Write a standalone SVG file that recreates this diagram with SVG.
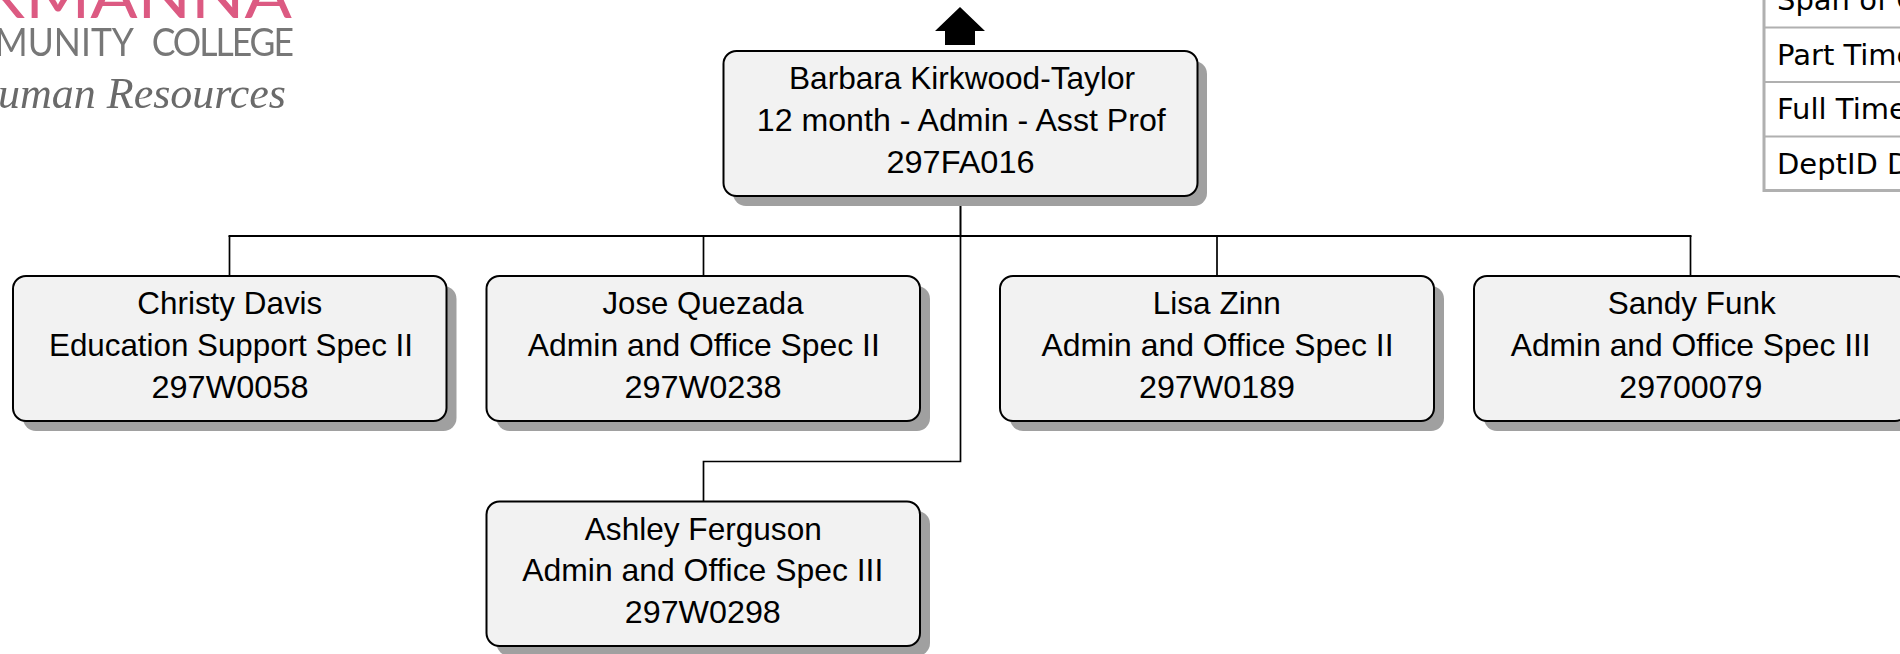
<svg xmlns="http://www.w3.org/2000/svg" width="1900" height="654" viewBox="0 0 1900 654">
<defs><filter id="soft" x="-5%" y="-5%" width="110%" height="110%"><feGaussianBlur stdDeviation="0.6"/></filter></defs>
<style>
.box{fill:#f2f2f2;stroke:#000;stroke-width:2}
.sh{fill:#a0a0a0}
.t{font-family:"Liberation Sans",Arial,sans-serif;font-size:32px;fill:#000;text-anchor:middle}
.c{fill:none;stroke:#000;stroke-width:2}
.tb{font-family:"DejaVu Sans",sans-serif;font-size:29px;fill:#000}
.gl{fill:none;stroke:#b0b0b0;stroke-width:2}
</style>
<rect width="1900" height="654" fill="#fff"/>
<g id="logo" filter="url(#soft)">
<text transform="translate(292 18) scale(1.13 1)" text-anchor="end" font-family="Lato,sans-serif" font-size="62" fill="#dc5a82">RMANNA</text>
<text transform="translate(292 56) scale(.91 1)" text-anchor="end" font-family="Lato,sans-serif" font-size="39" fill="#777" word-spacing="11">MMUNITY <tspan letter-spacing="-2.200">COLLEGE</tspan></text>
<text x="286" y="108" text-anchor="end" font-family="'Liberation Serif',serif" font-style="italic" font-size="44" fill="#6a6a6a">uman Resources</text>
</g>
<g id="legend">
<path class="gl" d="M1900 27.500H1764.500M1900 82H1764.500M1900 136.500H1764.500"/>
<path d="M1764 0V190.500H1900" fill="none" stroke="#b0b0b0" stroke-width="3"/>
<text class="tb" x="1777" y="10">Span of C</text>
<text class="tb" x="1777" y="65">Part Time</text>
<text class="tb" x="1777" y="119">Full Time</text>
<text class="tb" x="1777" y="174">DeptID De</text>
</g>
<g id="connectors">
<path class="c" stroke-width="3" d="M960.500 196V236"/>
<path class="c" style="stroke-width:1.700" d="M960.500 236V461.500H703.500V501"/>
<path class="c" d="M228.500 236H1691.500"/>
<path class="c" style="stroke-width:1.700" d="M229.500 236V276M703.500 236V276M1217 236V276M1690.500 236V276"/>
<path d="M960 7L985 31H975V45H945V31H935Z" fill="#000"/>
</g>
<g id="n-barbara">
<rect class="sh" x="733" y="61" width="474" height="145" rx="13"/>
<rect class="box" x="723.500" y="51" width="474" height="145" rx="13"/>
<text class="t" x="962" y="88.500" textLength="346" lengthAdjust="spacingAndGlyphs">Barbara Kirkwood-Taylor</text>
<text class="t" x="961.300" y="131" textLength="409" lengthAdjust="spacingAndGlyphs">12 month - Admin - Asst Prof</text>
<text class="t" x="960.500" y="173" textLength="148" lengthAdjust="spacingAndGlyphs">297FA016</text>
</g>
<g id="n-christy">
<rect class="sh" x="23" y="286" width="433.500" height="145" rx="13"/>
<rect class="box" x="13" y="276" width="433.500" height="145" rx="13"/>
<text class="t" x="229.800" y="314" textLength="185" lengthAdjust="spacingAndGlyphs">Christy Davis</text>
<text class="t" x="231" y="356" textLength="364" lengthAdjust="spacingAndGlyphs">Education Support Spec II</text>
<text class="t" x="230" y="398" textLength="157" lengthAdjust="spacingAndGlyphs">297W0058</text>
</g>
<g id="n-jose">
<rect class="sh" x="496.500" y="286" width="433.500" height="145" rx="13"/>
<rect class="box" x="486.500" y="276" width="433.500" height="145" rx="13"/>
<text class="t" x="703" y="314" textLength="201" lengthAdjust="spacingAndGlyphs">Jose Quezada</text>
<text class="t" x="703.800" y="356" textLength="352" lengthAdjust="spacingAndGlyphs">Admin and Office Spec II</text>
<text class="t" x="703" y="398" textLength="157" lengthAdjust="spacingAndGlyphs">297W0238</text>
</g>
<g id="n-lisa">
<rect class="sh" x="1010" y="286" width="434" height="145" rx="13"/>
<rect class="box" x="1000" y="276" width="434" height="145" rx="13"/>
<text class="t" x="1216.800" y="314" textLength="128" lengthAdjust="spacingAndGlyphs">Lisa Zinn</text>
<text class="t" x="1217.500" y="356" textLength="352" lengthAdjust="spacingAndGlyphs">Admin and Office Spec II</text>
<text class="t" x="1217" y="398" textLength="156" lengthAdjust="spacingAndGlyphs">297W0189</text>
</g>
<g id="n-sandy">
<rect class="sh" x="1484" y="286" width="434" height="145" rx="13"/>
<rect class="box" x="1474" y="276" width="434" height="145" rx="13"/>
<text class="t" x="1691.800" y="314" textLength="168" lengthAdjust="spacingAndGlyphs">Sandy Funk</text>
<text class="t" x="1690.700" y="356" textLength="360" lengthAdjust="spacingAndGlyphs">Admin and Office Spec III</text>
<text class="t" x="1690.800" y="398" textLength="143" lengthAdjust="spacingAndGlyphs">29700079</text>
</g>
<g id="n-ashley">
<rect class="sh" x="496.500" y="511" width="433.500" height="145" rx="13"/>
<rect class="box" x="486.500" y="501.500" width="433.500" height="144.500" rx="13"/>
<text class="t" x="703.300" y="540" textLength="237" lengthAdjust="spacingAndGlyphs">Ashley Ferguson</text>
<text class="t" x="702.800" y="581" textLength="361" lengthAdjust="spacingAndGlyphs">Admin and Office Spec III</text>
<text class="t" x="702.800" y="623" textLength="156" lengthAdjust="spacingAndGlyphs">297W0298</text>
</g>
</svg>
